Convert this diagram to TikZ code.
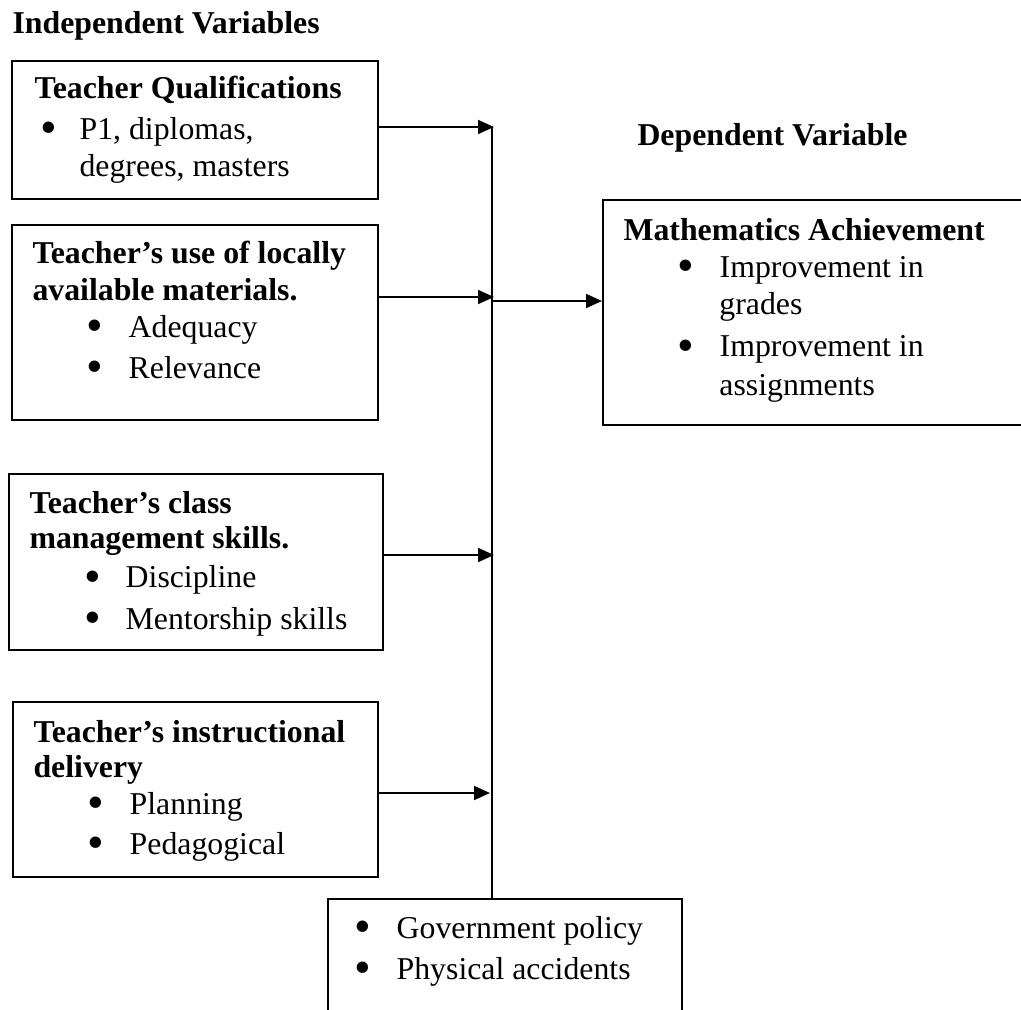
\documentclass[tikz,border=0pt]{standalone}
\usepackage{fontspec}
\setmainfont{Liberation Serif}
\usetikzlibrary{arrows.meta, calc}

% bullet with indent and hang
\newcommand{\bul}[2]{\hspace*{#1}\makebox[#2][l]{\raisebox{-1.7pt}{\scalebox{1.5}{\textbullet}}}}

\begin{document}
\begin{tikzpicture}[
      x=0.3774pt, y=-0.3774pt,
      caixa/.style={draw, line width=0.7pt, inner sep=0pt, anchor=north west},
      tam/.style 2 args={minimum width=#1*0.3774pt, minimum height=#2*0.3774pt},
      texto/.style={inner sep=0pt, anchor=base west, font=\fontsize{12pt}{14pt}\selectfont},
      titulo/.style={inner sep=0pt, anchor=base west, font=\fontsize{12pt}{14pt}\selectfont\bfseries},
      seta/.style={-{Triangle[length=6pt, width=5.2pt]}, line width=0.85pt},
      tronco/.style={line width=0.55pt}
  ]
    \useasboundingbox (0,0) rectangle (1021,1009);
    \clip (0,0) rectangle (1021,1009);

    % headings
    \node [titulo] (indep) at (12,33) {Independent Variables};
    \node [titulo] (dep) at (637,145) {Dependent Variable};

    % boxes
    \node [caixa, tam={366}{138}] (qual) at (11,60) {};
    \node [caixa, tam={366}{195}] (mat) at (11,224) {};
    \node [caixa, tam={374}{176}] (mgmt) at (8,473) {};
    \node [caixa, tam={365}{175}] (deliv) at (12,701) {};
    \node [caixa, tam={428}{225}] (achv) at (602,199) {};
    \node [caixa, tam={354}{132}] (ext) at (327,898) {};

    % box texts
    \node [texto] (qualtxt) at (34,98) {\begin{minipage}[t]{9cm}
      \textbf{Teacher Qualifications}\\[1.5pt]
      \bul{2.3pt}{14.7pt}P1, diplomas,\\
      \hspace*{17pt}degrees, masters
    \end{minipage}};
    \node [texto] (mattxt) at (32,263) {\begin{minipage}[t]{9cm}
      \textbf{Teacher’s use of locally}\\
      \textbf{available materials.}\\
      \bul{20.4pt}{15.9pt}Adequacy\\[1.5pt]
      \bul{20.4pt}{15.9pt}Relevance
    \end{minipage}};
    \node [texto] (mgmttxt) at (29,513) {\begin{minipage}[t]{9cm}
      \textbf{Teacher’s class}\\[-0.7pt]
      \textbf{management skills.}\\[1pt]
      \bul{20.8pt}{15.5pt}Discipline\\[1.5pt]
      \bul{20.8pt}{15.5pt}Mentorship skills
    \end{minipage}};
    \node [texto] (delivtxt) at (33,742) {\begin{minipage}[t]{9cm}
      \textbf{Teacher’s instructional}\\[-0.7pt]
      \textbf{delivery}\\
      \bul{20.4pt}{15.9pt}Planning\\[1pt]
      \bul{20.4pt}{15.9pt}Pedagogical
    \end{minipage}};
    \node [texto] (achvtxt) at (623,240) {\begin{minipage}[t]{9cm}
      \textbf{Mathematics Achievement}\\
      \bul{20.4pt}{15.9pt}Improvement in\\
      \hspace*{36.2pt}grades\\[2pt]
      \bul{20.4pt}{15.9pt}Improvement in\\[0.5pt]
      \hspace*{36.2pt}assignments
    \end{minipage}};
    \node [texto] (exttxt) at (354,938) {\begin{minipage}[t]{9cm}
      \bul{0pt}{15.9pt}Government policy\\[1.5pt]
      \bul{0pt}{15.9pt}Physical accidents
    \end{minipage}};

    % joints on the trunk line
    \coordinate (j1) at (494,127);
    \coordinate (j2) at (494,297);
    \coordinate (jx) at (492,301);
    \coordinate (j3) at (494,555);
    \coordinate (j4) at (490,793);

    \draw [tronco] (492,127) -- (ext.north -| 492,0);
    \draw [seta] (qual.east |- j1) -- (j1);
    \draw [seta] (mat.east |- j2) -- (j2);
    \draw [seta] (jx) -- (achv.west |- jx);
    \draw [seta] (mgmt.east |- j3) -- (j3);
    \draw [seta] (deliv.east |- j4) -- (j4);
  \end{tikzpicture}
\end{document}
